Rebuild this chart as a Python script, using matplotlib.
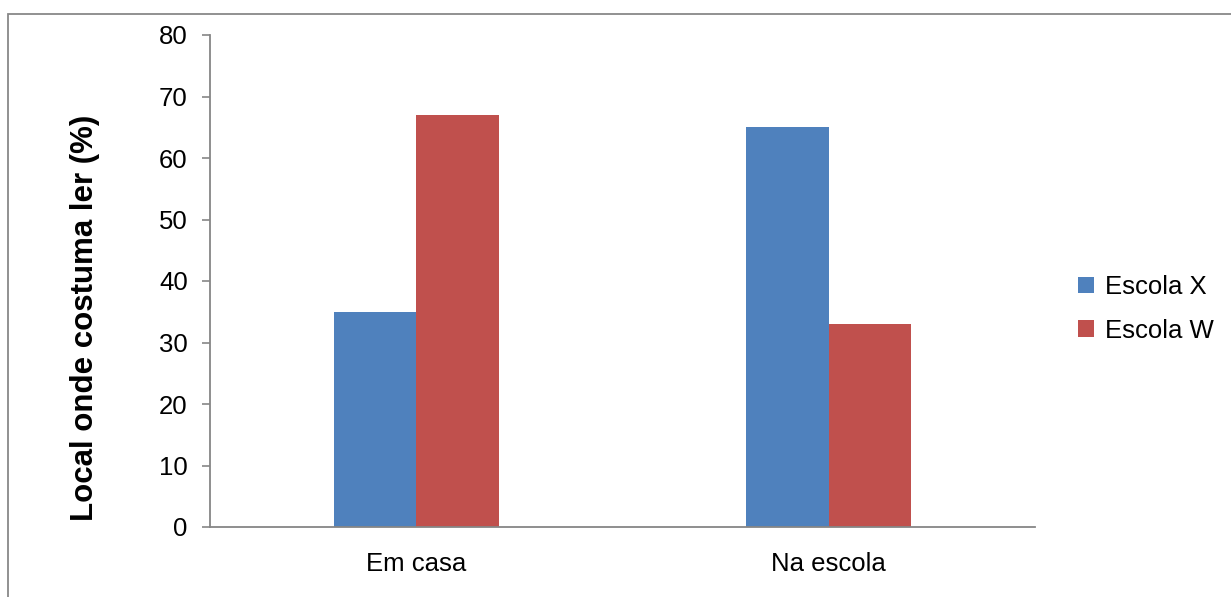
import matplotlib
matplotlib.use("Agg")
import matplotlib.pyplot as plt
from matplotlib.patches import Rectangle, Patch
import numpy as np

plt.rcParams['font.family'] = ['Liberation Sans', 'DejaVu Sans']

categories = ["Em casa", "Na escola"]
series_names = ["Escola X", "Escola W"]
escola_x = [35, 65]
escola_w = [67, 33]
yticks = [0, 10, 20, 30, 40, 50, 60, 70, 80]
ylabel = "Local onde costuma ler (%)"

colors = ["#4F81BD", "#C0504D"]
axis_color = "#868686"

W, H = 1231, 597
fig = plt.figure(figsize=(W / 100, H / 100), dpi=100)
fig.patch.set_facecolor("white")

# outer chart border (cropped at right and bottom)
fig.patches.append(Rectangle((8 / W, -0.1), 1.2, 1 - 14 / H + 0.1,
                             transform=fig.transFigure, fill=False,
                             edgecolor="#888888", linewidth=1.3))

ax = fig.add_axes([210 / W, 1 - 527 / H, (1035 - 210) / W, (527 - 35) / H])
x = np.arange(len(categories))
bw = 0.2
ax.bar(x - bw / 2, escola_x, bw, color=colors[0], label=series_names[0])
ax.bar(x + bw / 2, escola_w, bw, color=colors[1], label=series_names[1])

ax.set_xlim(-0.5, len(categories) - 0.5)
ax.set_ylim(0, 80)
ax.set_yticks(yticks)
ax.set_yticklabels([str(v) for v in yticks], fontsize=18.5)
ax.set_xticks(x)
ax.set_xticklabels(categories, fontsize=18.5)
ax.tick_params(axis='x', length=0, pad=18)
ax.tick_params(axis='y', length=6, width=1.2, color=axis_color, pad=10, direction='out')
for s in ["top", "right"]:
    ax.spines[s].set_visible(False)
for s in ["left", "bottom"]:
    ax.spines[s].set_color(axis_color)
    ax.spines[s].set_linewidth(1.3)

fig.text(85 / W, 1 - 318 / H, ylabel, rotation=90, ha="center", va="center",
         fontsize=22.5, fontweight='bold')

handles = [Patch(facecolor=colors[0]), Patch(facecolor=colors[1])]
fig.legend(handles, series_names, loc="center left",
           bbox_to_anchor=(1055 / W, 1 - 309 / H), frameon=False,
           fontsize=18.5, handlelength=0.6, handleheight=0.6,
           handletextpad=0.45, labelspacing=0.75)

fig.savefig("out.png", dpi=100, facecolor="white")
